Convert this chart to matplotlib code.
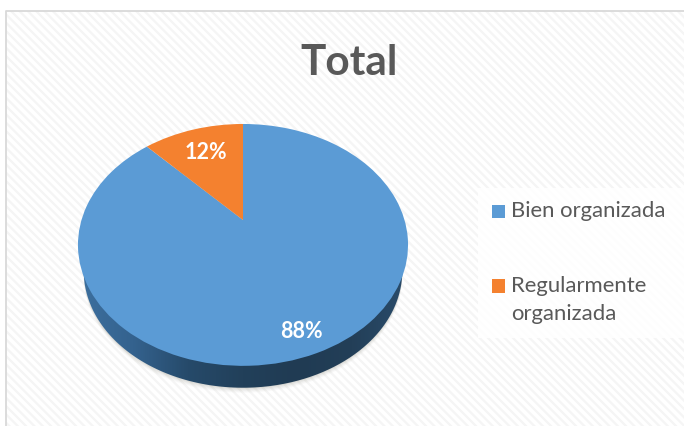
import numpy as np
import matplotlib
matplotlib.use('Agg')
import matplotlib.pyplot as plt
import matplotlib.patches as patches
import matplotlib.transforms as mtransforms
from matplotlib.colors import LinearSegmentedColormap

categorias = ['Bien organizada', 'Regularmente\norganizada']
valores = [88, 12]
colores = ['#5B9BD5', '#F4812F']
titulo = 'Total'

plt.rcParams['font.family'] = ['Lato', 'DejaVu Sans']
plt.rcParams['hatch.linewidth'] = 1.6
plt.rcParams['hatch.color'] = '#f5f5f5'

# pixel geometry of the tilted pie
CX, CY = 243.0, 220.0
RX, RY, K = 161.5, 115.8, 0.206


class Tilt(mtransforms.Transform):
    # perspective of a unit circle lying on a table, result in pixels
    input_dims = 2
    output_dims = 2

    def __init__(self, dy=0.0, scale=1.0):
        super().__init__()
        self.dy = dy
        self.scale = scale

    def transform_non_affine(self, values):
        values = np.asarray(values, dtype=float)
        x, y = values[:, 0], values[:, 1]
        d = 1 + K * y
        return np.column_stack([CX + self.scale * RX * x / d,
                                CY + self.dy - self.scale * RY * y / d])


fig = plt.figure(figsize=(6.84, 4.26), dpi=100, facecolor='white')
ax = fig.add_axes([0, 0, 1, 1])

wedges, _, autotexts = ax.pie(valores, colors=colores, startangle=90, counterclock=False,
                              autopct='%.0f%%', wedgeprops={'linewidth': 0, 'zorder': 5},
                              textprops={'color': 'white', 'fontweight': 'bold', 'fontsize': 15.5, 'zorder': 6})
ax.set_aspect('auto')
ax.set_xlim(0, 684)
ax.set_ylim(426, 0)
ax.axis('off')

tilt = Tilt() + ax.transData
for w in wedges:
    w.set_transform(tilt)

# percent labels, radius measured along the middle of each slice
label_r = [0.865, 0.71]
label_dx = [-0.018, 0.0]
for t, w, r, dx in zip(autotexts, wedges, label_r, label_dx):
    ang = np.radians((w.theta1 + w.theta2) / 2)
    t.set_position((r * np.cos(ang) + dx, r * np.sin(ang)))
    t.set_transform(tilt)

# chart area background
ax.add_patch(patches.Rectangle((6, 11), 680, 420, facecolor='white', edgecolor='#f5f5f5',
                               hatch='\\\\\\\\', linewidth=0, zorder=0))
ax.plot([6, 6, 686], [430, 11, 11], color='#d9d9d9', linewidth=1.3, zorder=1)

# side wall of the disc: a slightly smaller copy below, the top hides the rest
theta = np.linspace(0, 2 * np.pi, 300)
rim = np.column_stack([np.cos(theta), np.sin(theta)])
wall = Tilt(dy=27.0, scale=0.965).transform_non_affine(rim)

# soft shadow below the wall
for grow, alpha in zip([5, 4, 3, 2, 1], [0.03, 0.04, 0.05, 0.06, 0.08]):
    ax.add_patch(patches.Polygon(wall + [0, grow], closed=True, facecolor='#7a7a6a', edgecolor='none',
                                 alpha=alpha, zorder=2))

wall_cmap = LinearSegmentedColormap.from_list('pared', ['#3d709f', '#34628e', '#264a6a', '#22405a',
                                                        '#203b53', '#233f58', '#2a4c6b'])
grad = ax.imshow(np.linspace(0, 1, 256)[None, :], cmap=wall_cmap, aspect='auto', zorder=3,
                 extent=[78, 408, 400, 230])
grad.set_clip_path(patches.Polygon(wall, closed=True, transform=ax.transData))
ax.set_xlim(0, 684)
ax.set_ylim(426, 0)

# title
ax.text(349.5, 63, titulo, ha='center', va='center', fontsize=30.5, fontweight='bold', color='#595959', zorder=6)

# legend, drawn by hand because of the uneven gaps in the original
ax.add_patch(patches.Rectangle((478, 188), 206, 150, facecolor='white', edgecolor='none', alpha=0.9, zorder=4))
legend_y = [211.5, 286]
for nombre, color, y in zip(categorias, colores, legend_y):
    ax.add_patch(patches.Rectangle((491.5, y - 7), 13.5, 13.5, facecolor=color, edgecolor='none', zorder=6))
    ax.text(511, y - 10.5, nombre, ha='left', va='top', fontsize=15.9, color='#595959',
            linespacing=1.52, zorder=6)

fig.savefig('out.png', dpi=100, facecolor='white')
